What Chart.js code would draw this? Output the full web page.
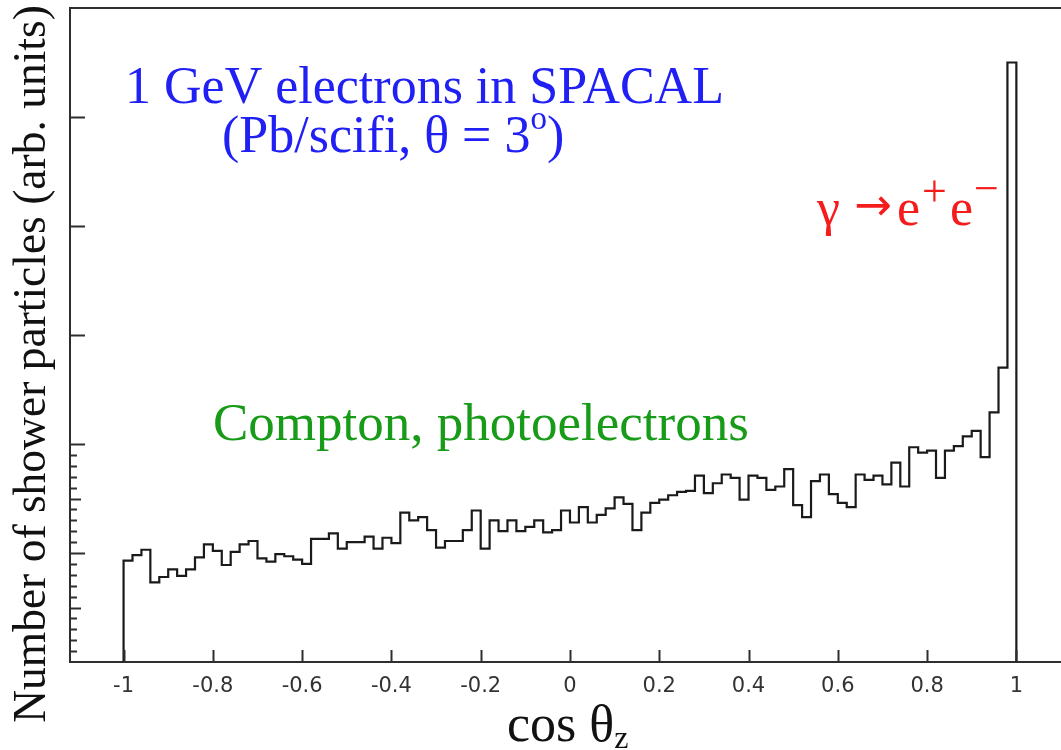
<!DOCTYPE html>
<html>
<head>
<meta charset="utf-8">
<script src="https://cdn.jsdelivr.net/npm/chart.js@4.4.1/dist/chart.umd.min.js"></script>
<style>
  html, body { margin: 0; padding: 0; background: #ffffff; overflow: hidden; }
  #wrap { width: 1061px; height: 750px; position: relative; }
</style>
</head>
<body>
<div id="wrap"><canvas id="chart" width="1061" height="750"></canvas></div>
<script>
// Angular distribution of shower particles: 100 bins of width 0.02 in cos(theta_z)
const binLow = -1.0;
const binWidth = 0.02;
const counts = [
  0.93, 0.98, 1.03, 0.73, 0.78, 0.85, 0.79, 0.85, 0.96, 1.08,
  1.02, 0.89, 1.01, 1.08, 1.11, 0.95, 0.92, 0.99, 0.97, 0.94,
  0.90, 1.13, 1.13, 1.18, 1.04, 1.10, 1.10, 1.15, 1.04, 1.14,
  1.09, 1.37, 1.30, 1.33, 1.21, 1.05, 1.11, 1.11, 1.21, 1.39,
  1.04, 1.30, 1.20, 1.30, 1.20, 1.24, 1.30, 1.19, 1.21, 1.39,
  1.28, 1.42, 1.28, 1.35, 1.41, 1.51, 1.45, 1.21, 1.37, 1.46,
  1.49, 1.53, 1.56, 1.57, 1.71, 1.55, 1.64, 1.72, 1.69, 1.49,
  1.71, 1.69, 1.58, 1.61, 1.77, 1.44, 1.33, 1.66, 1.72, 1.54,
  1.46, 1.42, 1.72, 1.67, 1.71, 1.63, 1.83, 1.61, 1.97, 1.92,
  1.94, 1.69, 1.94, 1.98, 2.07, 2.12, 1.88, 2.29, 2.70, 5.50
];

const xTickValues = [-1, -0.8, -0.6, -0.4, -0.2, 0, 0.2, 0.4, 0.6, 0.8, 1];
const xTickLabels = ['-1', '-0.8', '-0.6', '-0.4', '-0.2', '0', '0.2', '0.4', '0.6', '0.8', '1'];
const yMajorTicks = [1, 2, 3, 4, 5];
const yMediumTicks = [0.5, 1.5];
const yMinorTicks = [0.1, 0.2, 0.3, 0.4, 0.6, 0.7, 0.8, 0.9, 1.1, 1.2, 1.3, 1.4, 1.6, 1.7, 1.8, 1.9];

// Histogram outline: start and end on the baseline, one step per bin
const outline = [{ x: binLow, y: 0 }];
counts.forEach((v, i) => outline.push({ x: binLow + i * binWidth, y: v }));
outline.push({ x: binLow + counts.length * binWidth, y: 0 });

const SERIF = '"Liberation Serif", "Times New Roman", serif';
const SANS = '"DejaVu Sans", sans-serif';
const AXIS_COLOR = '#2e2e2e';

function drawRuns(ctx, x, runs, color) {
  ctx.fillStyle = color;
  ctx.textAlign = 'left';
  ctx.textBaseline = 'alphabetic';
  for (const r of runs) {
    ctx.font = r.size + 'px ' + (r.family || SERIF);
    const px = (r.x !== undefined) ? r.x : x;
    ctx.fillText(r.text, px, r.y);
    x = px + ctx.measureText(r.text).width;
  }
}

const decorations = {
  id: 'decorations',
  afterDraw(chart) {
    const { ctx, chartArea, scales } = chart;
    const xs = scales.x, ys = scales.y;
    ctx.save();
    ctx.strokeStyle = AXIS_COLOR;
    ctx.lineWidth = 2;

    // top frame line
    ctx.beginPath();
    ctx.moveTo(chartArea.left, chartArea.top);
    ctx.lineTo(chartArea.right, chartArea.top);
    ctx.stroke();

    // inward tick marks on the y axis
    const yTick = (v, len) => {
      const py = Math.round(ys.getPixelForValue(v)) + 0.5;
      ctx.beginPath();
      ctx.moveTo(chartArea.left, py);
      ctx.lineTo(chartArea.left + len, py);
      ctx.stroke();
    };
    yMajorTicks.forEach(v => yTick(v, 15));
    yMediumTicks.forEach(v => yTick(v, 11));
    yMinorTicks.forEach(v => yTick(v, 7));

    // inward tick marks on the x axis
    xTickValues.forEach(v => {
      const px = Math.round(xs.getPixelForValue(v)) + 0.5;
      ctx.beginPath();
      ctx.moveTo(px, chartArea.bottom);
      ctx.lineTo(px, chartArea.bottom - 12);
      ctx.stroke();
    });

    // y axis title
    ctx.save();
    ctx.translate(33, 364);
    ctx.rotate(-Math.PI / 2);
    ctx.fillStyle = '#111111';
    ctx.font = '45.5px ' + SERIF;
    ctx.textAlign = 'center';
    ctx.textBaseline = 'middle';
    ctx.fillText('Number of shower particles (arb. units)', 0, 0);
    ctx.restore();

    // x axis title: cos theta with subscript z
    drawRuns(ctx, 507, [
      { text: 'cos θ', size: 52, y: 741 },
      { text: 'z', size: 32, y: 748 }
    ], '#111111');

    // annotations
    drawRuns(ctx, 125, [{ text: '1 GeV electrons in SPACAL', size: 52, y: 103 }], '#2020f4');
    drawRuns(ctx, 222, [
      { text: '(Pb/scifi, θ = 3', size: 52, y: 152 },
      { text: 'o', size: 33, y: 129 },
      { text: ')', size: 52, y: 152 }
    ], '#2020f4');

    drawRuns(ctx, 816, [
      { text: 'γ', size: 52, y: 225, x: 817 },
      { text: '→', size: 45, y: 220, x: 854, family: SANS },
      { text: 'e', size: 52, y: 225, x: 897 },
      { text: '+', size: 44, y: 206, x: 922 },
      { text: 'e', size: 52, y: 225, x: 950 },
      { text: '−', size: 44, y: 203, x: 974 }
    ], '#f51c1c');

    drawRuns(ctx, 213, [{ text: 'Compton, photoelectrons', size: 53, y: 440 }], '#189b18');

    ctx.restore();
  }
};

new Chart(document.getElementById('chart'), {
  type: 'line',
  data: {
    datasets: [{
      data: outline,
      stepped: 'before',
      borderColor: '#1a1a1a',
      borderWidth: 2.2,
      pointRadius: 0,
      fill: false,
      tension: 0
    }]
  },
  options: {
    responsive: false,
    animation: false,
    events: [],
    layout: { padding: { top: 8, right: 0, left: 0, bottom: 0 } },
    plugins: { legend: { display: false }, tooltip: { enabled: false } },
    scales: {
      x: {
        type: 'linear',
        min: -1.12,
        max: 1.1,
        afterBuildTicks: s => { s.ticks = xTickValues.map(v => ({ value: v })); },
        afterFit: s => { s.height = 88; },
        grid: { display: false },
        border: { display: true, color: AXIS_COLOR, width: 2 },
        ticks: {
          autoSkip: false,
          maxRotation: 0,
          padding: 4,
          color: '#333333',
          font: { family: '"DejaVu Sans", sans-serif', size: 21 },
          callback: v => xTickLabels[xTickValues.indexOf(v)]
        }
      },
      y: {
        type: 'linear',
        min: 0,
        max: 6,
        afterBuildTicks: s => { s.ticks = yMajorTicks.map(v => ({ value: v })); },
        afterFit: s => { s.width = 70; },
        grid: { display: false },
        border: { display: true, color: AXIS_COLOR, width: 2 },
        ticks: { display: false }
      }
    }
  },
  plugins: [decorations]
});
</script>
</body>
</html>
